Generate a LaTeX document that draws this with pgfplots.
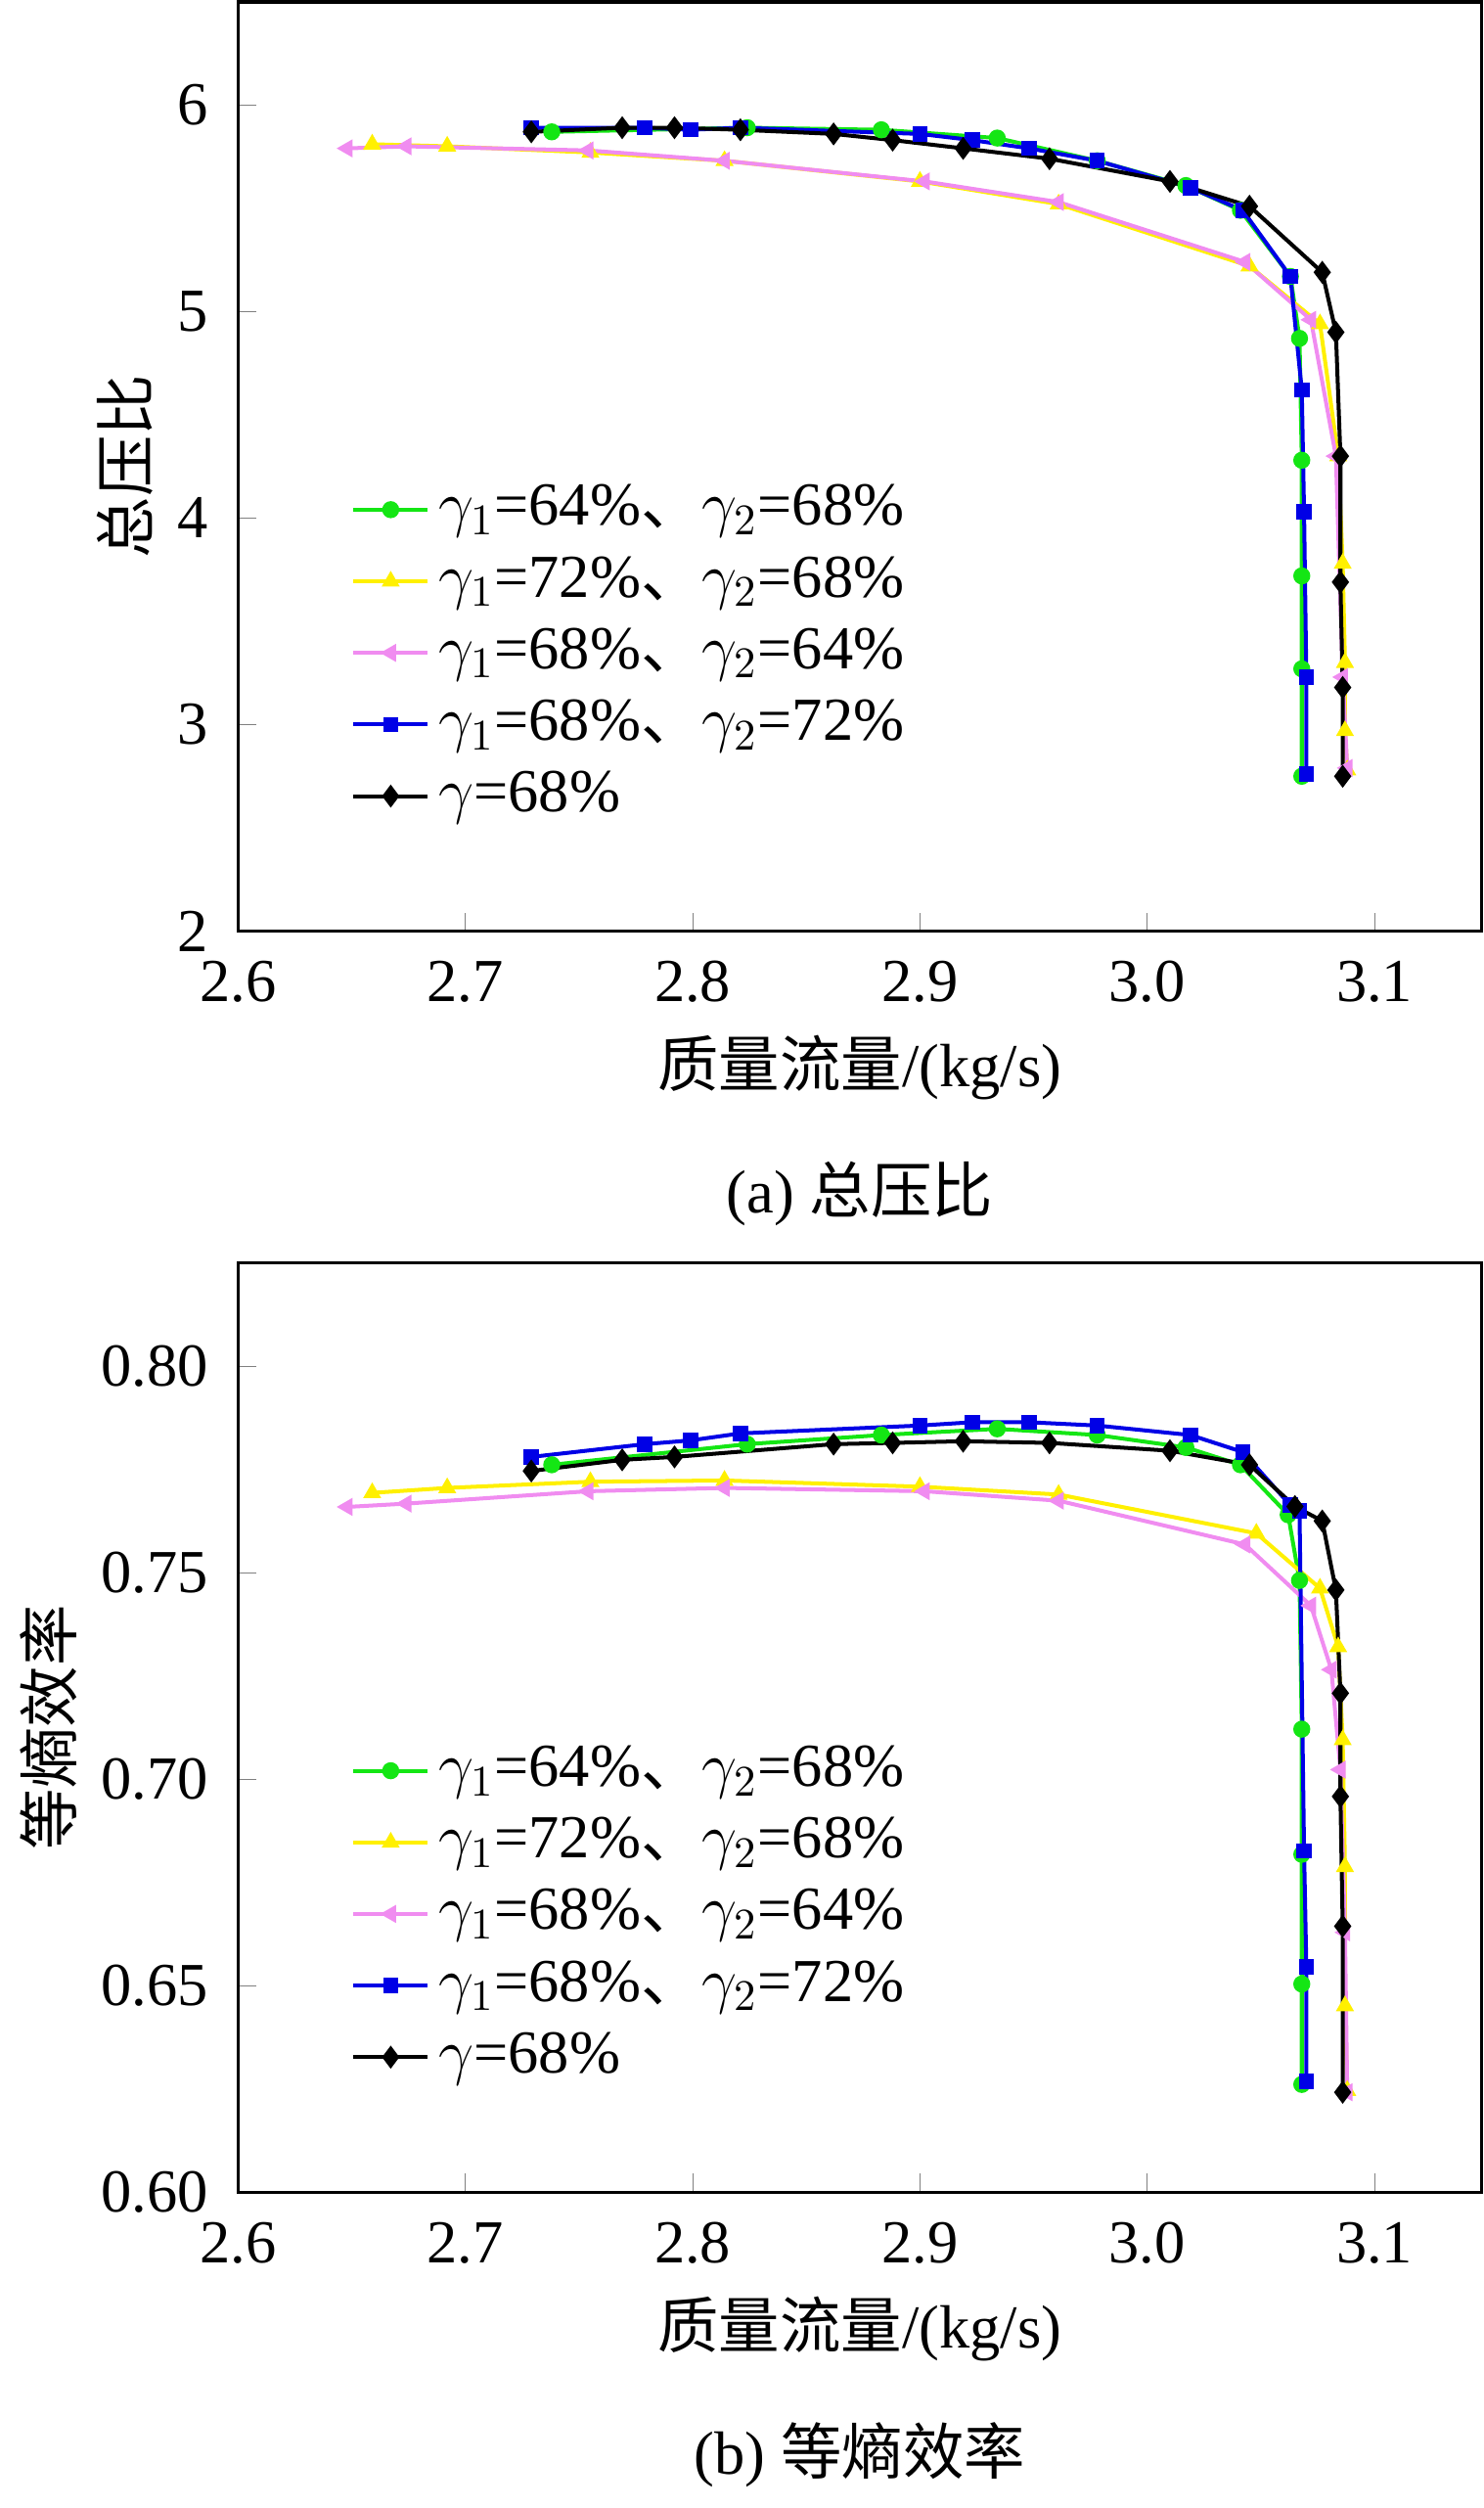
\documentclass[border=0pt]{standalone}
\usepackage{pgfplots}
\pgfplotsset{compat=1.18}
\usepackage{fontspec}
\setmainfont{Liberation Serif}
\newfontfamily\cjk{Noto Sans CJK SC}
\definecolor{cg}{RGB}{20,230,20}
\definecolor{cy}{RGB}{255,240,0}
\definecolor{cp}{RGB}{240,140,240}
\definecolor{cb}{RGB}{0,0,230}
\newcommand{\ff}{\rmfamily\fontsize{14}{16}\selectfont}
\begin{document}
\ff
\begin{tikzpicture}
\pgfplotsset{
  every axis/.append style={scale only axis, width=285pt, height=213pt, xmin=2.6, xmax=3.147, clip=false,
    xtick={2.6,2.7,...,3.1}, tick align=inside, axis line style={line width=0.8pt},
    /pgf/number format/assume math mode=true, /pgf/number format/fixed zerofill, /pgf/number format/precision=1,
    tick label style={font=\ff}, label style={font=\ff},
    xticklabel style={yshift=-2pt}, yticklabel style={xshift=-2pt},
    xtick pos=bottom, ytick pos=left,
    legend style={draw=none, fill=none, at={(0.08,0.5)}, anchor=north west, row sep=1pt, font=\ff},
    legend cell align=left},
  every axis plot/.append style={line width=0.9pt, mark size=1.5pt},
}
\tikzset{
  sg/.style={cg, mark=*}, sy/.style={cy, mark=triangle*},
  sp/.style={cp, mark=triangle*, mark options={rotate=90}}, sb/.style={cb, mark=square*, mark size=1.3pt},
  sk/.style={black, mark=diamond*, mark size=1.9pt}}
\begin{axis}[at={(0,0)}, ymin=2, ymax=6.5, ytick={2,3,4,5,6},
  yticklabel style={/pgf/number format/precision=0},
  xlabel={{\cjk 质量流量}/(kg/s)}, ylabel={\cjk 总压比}, xlabel style={yshift=2pt}, ylabel style={yshift=-4pt}]
\addplot[sg] coordinates {(2.738,5.87)(2.824,5.89)(2.883,5.88)(2.934,5.84)(2.978,5.73)(3.017,5.61)(3.041,5.49)(3.063,5.17)(3.067,4.87)(3.068,4.28)(3.068,3.72)(3.068,3.27)(3.068,2.75)};
\addplot[sy] coordinates {(2.659,5.81)(2.692,5.80)(2.755,5.77)(2.814,5.73)(2.900,5.63)(2.961,5.52)(3.045,5.22)(3.076,4.94)(3.084,4.30)(3.086,3.78)(3.087,3.30)(3.087,2.97)(3.088,2.78)};
\addplot[sp] coordinates {(2.648,5.79)(2.674,5.80)(2.754,5.78)(2.814,5.73)(2.902,5.63)(2.961,5.53)(3.043,5.24)(3.072,4.96)(3.083,4.30)(3.086,3.23)(3.088,2.79)};
\addplot[sb] coordinates {(2.729,5.89)(2.779,5.89)(2.799,5.88)(2.821,5.89)(2.900,5.86)(2.923,5.83)(2.948,5.79)(2.978,5.73)(3.019,5.60)(3.042,5.49)(3.063,5.17)(3.068,4.62)(3.069,4.03)(3.070,3.23)(3.070,2.76)};
\addplot[sk] coordinates {(2.729,5.87)(2.769,5.89)(2.792,5.89)(2.821,5.88)(2.862,5.86)(2.888,5.83)(2.919,5.79)(2.957,5.74)(3.010,5.63)(3.045,5.51)(3.077,5.19)(3.083,4.90)(3.085,4.30)(3.085,3.69)(3.086,3.18)(3.086,2.75)};
\legend{{$\gamma_1$=64\%{\cjk 、}$\gamma_2$=68\%},{$\gamma_1$=72\%{\cjk 、}$\gamma_2$=68\%},{$\gamma_1$=68\%{\cjk 、}$\gamma_2$=64\%},{$\gamma_1$=68\%{\cjk 、}$\gamma_2$=72\%},{$\gamma$=68\%}}
\node[anchor=north, font=\ff] at (rel axis cs:0.5,0) [yshift=-48pt] {(a) {\cjk 总压比}};
\end{axis}
\begin{axis}[at={(0,-289pt)}, ymin=0.6, ymax=0.825, ytick={0.6,0.65,...,0.8},
  yticklabel style={/pgf/number format/precision=2},
  xlabel={{\cjk 质量流量}/(kg/s)}, ylabel={\cjk 等熵效率}, xlabel style={yshift=2pt}, ylabel style={yshift=-4pt}]
\addplot[sg] coordinates {(2.738,0.7761)(2.824,0.7811)(2.883,0.7833)(2.934,0.7848)(2.978,0.7833)(3.017,0.7803)(3.041,0.7761)(3.062,0.764)(3.067,0.7481)(3.068,0.7121)(3.068,0.6818)(3.068,0.6504)(3.068,0.6261)};
\addplot[sy] coordinates {(2.659,0.7693)(2.692,0.7705)(2.755,0.7720)(2.814,0.7723)(2.900,0.7708)(2.961,0.7689)(3.048,0.7595)(3.076,0.7462)(3.084,0.732)(3.086,0.7095)(3.087,0.6788)(3.087,0.6451)(3.088,0.6246)};
\addplot[sp] coordinates {(2.648,0.7659)(2.674,0.7667)(2.754,0.7697)(2.814,0.7705)(2.902,0.7697)(2.961,0.7674)(3.043,0.7568)(3.072,0.742)(3.081,0.7265)(3.085,0.7023)(3.087,0.6629)(3.088,0.6242)};
\addplot[sb] coordinates {(2.729,0.778)(2.779,0.7811)(2.799,0.782)(2.821,0.7837)(2.900,0.7856)(2.923,0.7864)(2.948,0.7864)(2.978,0.7856)(3.019,0.7833)(3.042,0.7792)(3.063,0.7663)(3.067,0.765)(3.069,0.6826)(3.070,0.6545)(3.070,0.6269)};
\addplot[sk] coordinates {(2.729,0.7746)(2.769,0.7773)(2.792,0.7780)(2.862,0.7811)(2.888,0.7814)(2.919,0.7818)(2.957,0.7814)(3.010,0.7795)(3.045,0.7761)(3.065,0.766)(3.077,0.7625)(3.083,0.7458)(3.085,0.7208)(3.085,0.6958)(3.086,0.6644)(3.086,0.6242)};
\legend{{$\gamma_1$=64\%{\cjk 、}$\gamma_2$=68\%},{$\gamma_1$=72\%{\cjk 、}$\gamma_2$=68\%},{$\gamma_1$=68\%{\cjk 、}$\gamma_2$=64\%},{$\gamma_1$=68\%{\cjk 、}$\gamma_2$=72\%},{$\gamma$=68\%}}
\node[anchor=north, font=\ff] at (rel axis cs:0.5,0) [yshift=-48pt] {(b) {\cjk 等熵效率}};
\end{axis}
\end{tikzpicture}
\end{document}
